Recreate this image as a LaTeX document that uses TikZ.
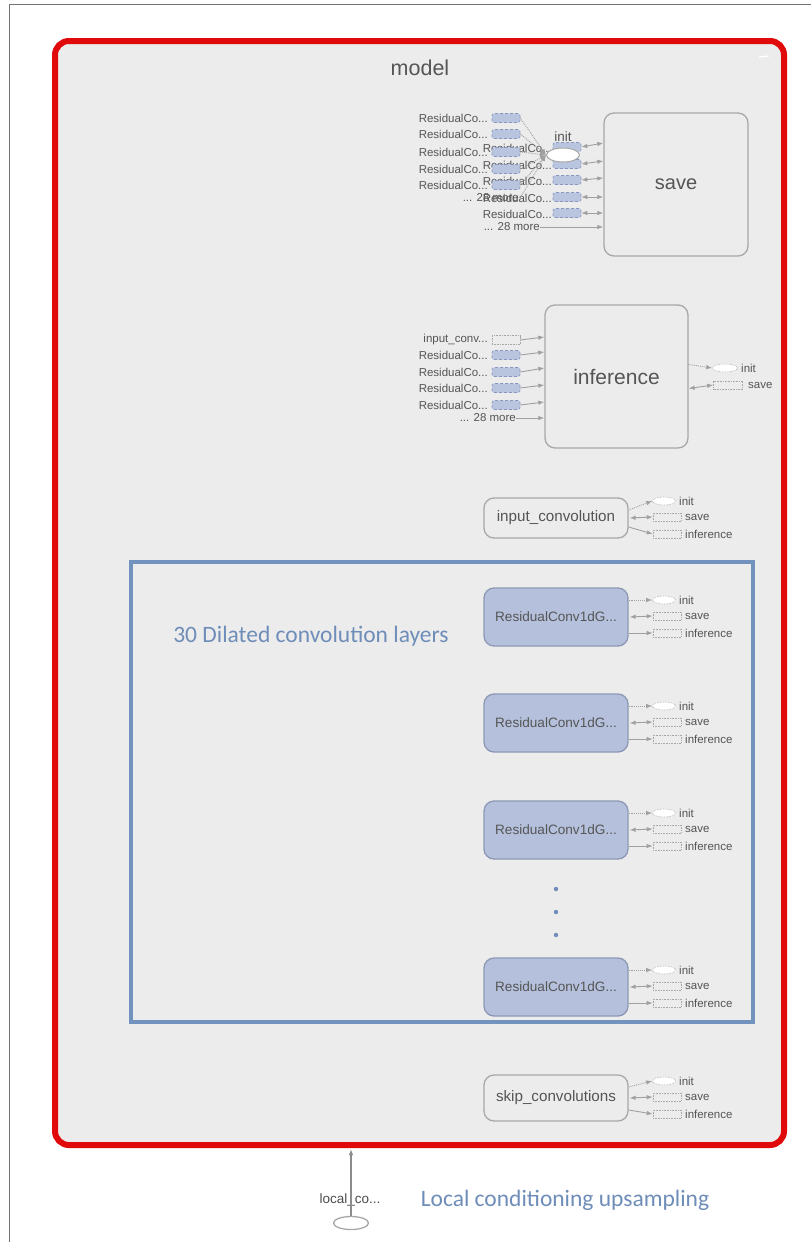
\documentclass[tikz,border=0pt]{standalone}
\usepackage{fontspec}
\setmainfont{Liberation Sans}
\newfontfamily\notefont{Carlito}
\usetikzlibrary{arrows.meta,shapes.geometric}

\definecolor{bgcol}{HTML}{ECECEC}
\definecolor{redline}{HTML}{E00A0A}
\definecolor{bluebox}{HTML}{7393BF}
\definecolor{notetext}{HTML}{6E8DB8}
\definecolor{edgegrey}{HTML}{A8A8A8}
\definecolor{arrowgrey}{HTML}{A0A0A0}
\definecolor{resfill}{HTML}{B5C1DC}
\definecolor{resedge}{HTML}{8C98B5}
\definecolor{minifill}{HTML}{B9C5DF}
\definecolor{miniedge}{HTML}{8797BF}
\definecolor{labeltext}{HTML}{555555}
\definecolor{framegrey}{HTML}{747474}

\newcommand\setsz[1]{\fontsize{#1}{#1}\selectfont}

% init / save / inference references to the right of an op node
% #1 node name, #2 centre y, #3 start shift of init edge, #4 start shift of inference edge
\newcommand\refgroup[4]{%
  \node[miniell] (#1i) at (664,#2-17) {};
  \node[minie] (#1s) at (667,#2-1) {};
  \node[minie] (#1f) at (667,#2+16) {};
  \node[lbl,anchor=west] (#1il) at (679,#2-17) {init};
  \node[lbl,anchor=west] (#1sl) at (685,#2-1) {save};
  \node[lbl,anchor=west] (#1fl) at (685,#2+16) {inference};
  \draw[arr,densely dotted] ([yshift=#3]#1.east) -- (#1i.west);
  \draw[darr] ([xshift=1pt]#1.east) -- (#1s.west);
  \draw[arr] ([yshift=#4]#1.east) -- (#1f.west);
}

\begin{document}
\begin{tikzpicture}[x=1pt,y=-1pt,
  opnode/.style={draw=edgegrey, line width=1.3pt, rounded corners=10pt, fill=bgcol,
    text=labeltext, inner sep=0pt, align=center},
  resnode/.style={opnode, fill=resfill, draw=resedge},
  lbl/.style={text=labeltext, inner sep=0pt, font=\setsz{11.5}},
  minib/.style={draw=miniedge, densely dashed, fill=minifill, minimum width=28pt,
    minimum height=9pt, inner sep=0pt, rounded corners=2pt, line width=0.6pt},
  minie/.style={draw=edgegrey, densely dotted, fill=bgcol, minimum width=28pt,
    minimum height=8pt, inner sep=0pt, line width=0.6pt},
  miniell/.style={ellipse, draw=edgegrey, densely dotted, fill=white, minimum width=23pt,
    minimum height=8pt, inner sep=0pt, line width=0.6pt},
  arr/.style={draw=arrowgrey, line width=0.9pt, -{Latex[length=6pt,width=4.5pt]}},
  darr/.style={draw=arrowgrey, line width=0.9pt,
    {Latex[length=6pt,width=4.5pt]}-{Latex[length=6pt,width=4.5pt]}},
  note/.style={text=notetext, inner sep=0pt, font=\notefont\setsz{23.5}}
]
\useasboundingbox (0,0) rectangle (811,1242);
\fill[white] (0,0) rectangle (811,1242);

% outer frame
\draw[framegrey, line width=1.3pt] (9.5,1242) -- (9.5,4.5) -- (811,4.5);

% model group
\draw[redline, line width=6pt, fill=bgcol, rounded corners=14pt] (55,41) rectangle (784,1145);
\draw[white, line width=1.2pt] (759,57) -- (769,56);
\node[text=labeltext, inner sep=0pt, font=\setsz{21.5}] (title) at (420,68) {model};

% ---------------- save ----------------
\node[opnode, minimum width=144pt, minimum height=143pt, font=\setsz{20}] (save) at (676,184.5) {save};

% first column of inputs to init
\foreach \yy/\k in {118/1,134/2,152/3,169/4,185/5}{
  \node[lbl, anchor=east] (aL\k) at (488,\yy) {ResidualCo...};
}
\node[lbl, anchor=east] (aM) at (519,198) {... 28 more};
% second column of inputs to save
\foreach \yy/\k in {147/1,164/2,180/3,197/4,213/5}{
  \node[lbl, anchor=east] (bL\k) at (552,\yy+1) {ResidualCo...};
}
\node[lbl, anchor=east] (bM) at (540,227) {... 28 more};
\foreach \yy/\k in {118/1,134/2,152/3,169/4,185/5}{
  \node[minib] (aB\k) at (506,\yy) {};
}
\foreach \yy/\k in {147/1,164/2,180/3,197/4,213/5}{
  \node[minib] (bB\k) at (567,\yy) {};
}
\foreach \k/\sh in {1/41.5pt,2/23.5pt,3/6.5pt,4/-12.5pt,5/-28.5pt}{
  \draw[darr] (bB\k.east) -- ([yshift=\sh]save.west);
}
\draw[arr] (bM.east) -- ([yshift=-42.5pt]save.west);

\node[ellipse, draw=edgegrey, fill=white, line width=1pt, minimum width=33pt,
  minimum height=14pt, inner sep=0pt] (sinit) at (563,155) {};
\foreach \k in {1,...,5}{
  \draw[arr, densely dotted] (aB\k.east) -- (sinit.west);
}
\draw[arr, densely dotted] ([xshift=1pt]aM.east) -- (sinit.west);
\node[lbl, font=\setsz{13.5}] (sinitl) at (563,137) {init};

% ---------------- inference ----------------
\node[opnode, minimum width=143pt, minimum height=143pt, font=\setsz{21}] (inf) at (616.5,376.5) {inference};
\node[lbl, anchor=east] (cL0) at (488,340) {input\_conv...};
\node[minie, minimum height=9pt] (cB0) at (506,340) {};
\foreach \yy/\k in {355/1,372/2,388/3,405/4}{
  \node[lbl, anchor=east] (cL\k) at (488,\yy) {ResidualCo...};
  \node[minib] (cB\k) at (506,\yy) {};
}
\node[lbl, anchor=east] (cM) at (516,418) {... 28 more};
\foreach \k/\sh in {0/39.5pt,1/24.5pt,2/8.5pt,3/-8.5pt,4/-25.5pt}{
  \draw[arr] (cB\k.east) -- ([yshift=\sh]inf.west);
}
\draw[arr] (cM.east) -- ([yshift=-41.5pt]inf.west);

\node[miniell, minimum width=25pt] (infi) at (725,368) {};
\node[minie, minimum width=29pt] (infs) at (728,385) {};
\node[lbl, anchor=west] (infil) at (741,368) {init};
\node[lbl, anchor=west] (infsl) at (748,385) {save};
\draw[arr, densely dotted] ([yshift=12pt]inf.east) -- (infi.west);
\draw[darr] ([yshift=-12pt]inf.east) -- (infs.west);

% ---------------- input_convolution ----------------
\node[opnode, minimum width=144pt, minimum height=40pt, font=\setsz{15.2}] (inconv) at (556,518) {input\_convolution};
\refgroup{inconv}{518}{8pt}{-9pt}

% ---------------- dilated convolution stack ----------------
\draw[bluebox, line width=4pt] (131,562) rectangle (753,1022);
\node[note] (dilated) at (311,636) {30 Dilated convolution layers};

\foreach \cy/\k in {617/1,723/2,830/3,987/4}{
  \node[resnode, minimum width=144pt, minimum height=58pt, font=\setsz{13.6}] (res\k) at (556,\cy) {ResidualConv1dG...};
  \refgroup{res\k}{\cy}{17pt}{-16pt}
}
\foreach \yy/\k in {889/1,912/2,935/3}{
  \fill[notetext] (556,\yy) circle (2.2pt);
}

% ---------------- skip_convolutions ----------------
\node[opnode, minimum width=144pt, minimum height=46pt, font=\setsz{15.2}] (skip) at (556,1098) {skip\_convolutions};
\refgroup{skip}{1098}{11pt}{-12pt}

% ---------------- local conditioning ----------------
\node[ellipse, draw=edgegrey, line width=1.3pt, minimum width=35pt, minimum height=13pt,
  inner sep=0pt] (local) at (351,1223) {};
\node[lbl, text=black!70, font=\setsz{13.5}] (locall) at (350,1200) {local\_co...};
\coordinate (modelin) at (351,1149);
\draw[arr, draw=gray!90, line width=1.1pt] (local.north) -- (modelin);
\node[note] (localnote) at (565,1200) {Local conditioning upsampling};
\end{tikzpicture}
\end{document}
